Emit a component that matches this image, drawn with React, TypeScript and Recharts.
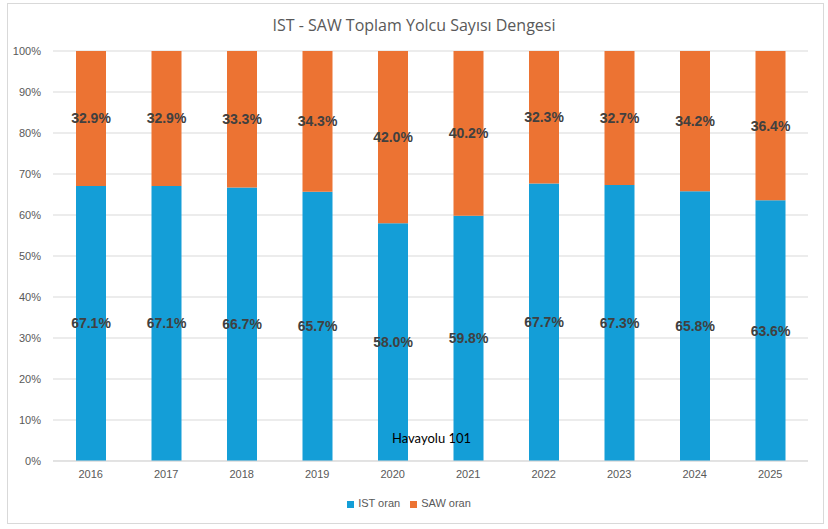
import React from 'react';
import { BarChart, Bar, XAxis, YAxis, CartesianGrid, Legend, LabelList } from 'recharts';

const years = ['2016', '2017', '2018', '2019', '2020', '2021', '2022', '2023', '2024', '2025'];
const istShare = [67.1, 67.1, 66.7, 65.7, 58.0, 59.8, 67.7, 67.3, 65.8, 63.6];
const sawShare = [32.9, 32.9, 33.3, 34.3, 42.0, 40.2, 32.3, 32.7, 34.2, 36.4];
const yTicks = [0, 10, 20, 30, 40, 50, 60, 70, 80, 90, 100];

const data = years.map((y, i) => ({ year: y, ist: istShare[i], saw: sawShare[i] }));

const BLUE = '#149ED7';
const ORANGE = '#EC7333';
const fmt = (v: any) => `${Number(v).toFixed(1)}%`;

export default function App() {
  return (
    <div style={{ position: 'absolute', left: 0, top: 0, width: 828, height: 529, background: '#fff' }}>
      <div
        style={{
          position: 'absolute', left: 7, top: 3, width: 815, height: 519,
          border: '1px solid #d9d9d9', boxSizing: 'content-box',
        }}
      />
      <div
        style={{
          position: 'absolute', left: 0, top: 14, width: 828, textAlign: 'center',
          fontFamily: '"Open Sans", sans-serif', fontSize: 16, color: '#595959',
        }}
      >
        IST - SAW Toplam Yolcu Sayısı Dengesi
      </div>
      <div style={{ position: 'absolute', left: 0, top: 0 }}>
        <BarChart
          width={828}
          height={529}
          data={data}
          margin={{ top: 51, right: 20, bottom: 26, left: 0 }}
          barSize={30}
        >
          <CartesianGrid vertical={false} stroke="#d9d9d9" />
          <XAxis
            dataKey="year"
            tickLine={false}
            tickSize={0}
            tickMargin={9}
            axisLine={{ stroke: '#d9d9d9' }}
            tick={{ fill: '#595959', fontSize: 11, fontFamily: '"Liberation Sans", Arial, sans-serif' }}
          />
          <YAxis
            width={53}
            domain={[0, 100]}
            ticks={yTicks}
            interval={0}
            tickFormatter={(v: number) => `${v}%`}
            axisLine={false}
            tickLine={false}
            tickSize={0}
            tickMargin={12}
            tick={{ fill: '#595959', fontSize: 11, fontFamily: '"Liberation Sans", Arial, sans-serif' }}
          />
          <Legend
            verticalAlign="bottom"
            iconType="square"
            iconSize={7}
            wrapperStyle={{ top: 497, left: 0, width: 828, fontFamily: '"Liberation Sans", Arial, sans-serif', fontSize: 11 }}
            formatter={(value: string) => <span style={{ color: '#595959' }}>{value}</span>}
          />
          <Bar dataKey="ist" name="IST oran" stackId="a" fill={BLUE} isAnimationActive={false}>
            <LabelList
              dataKey="ist"
              position="center"
              formatter={fmt}
              style={{ fill: '#404040', fontSize: 14, fontWeight: 'bold', fontFamily: '"Liberation Sans", Arial, sans-serif' }}
            />
          </Bar>
          <Bar dataKey="saw" name="SAW oran" stackId="a" fill={ORANGE} isAnimationActive={false}>
            <LabelList
              dataKey="saw"
              position="center"
              formatter={fmt}
              style={{ fill: '#404040', fontSize: 14, fontWeight: 'bold', fontFamily: '"Liberation Sans", Arial, sans-serif' }}
            />
          </Bar>
        </BarChart>
      </div>
      <div
        style={{
          position: 'absolute', left: 392, top: 430, fontFamily: 'Lato, sans-serif', fontSize: 13, color: '#000',
        }}
      >
        Havayolu 101
      </div>
    </div>
  );
}
